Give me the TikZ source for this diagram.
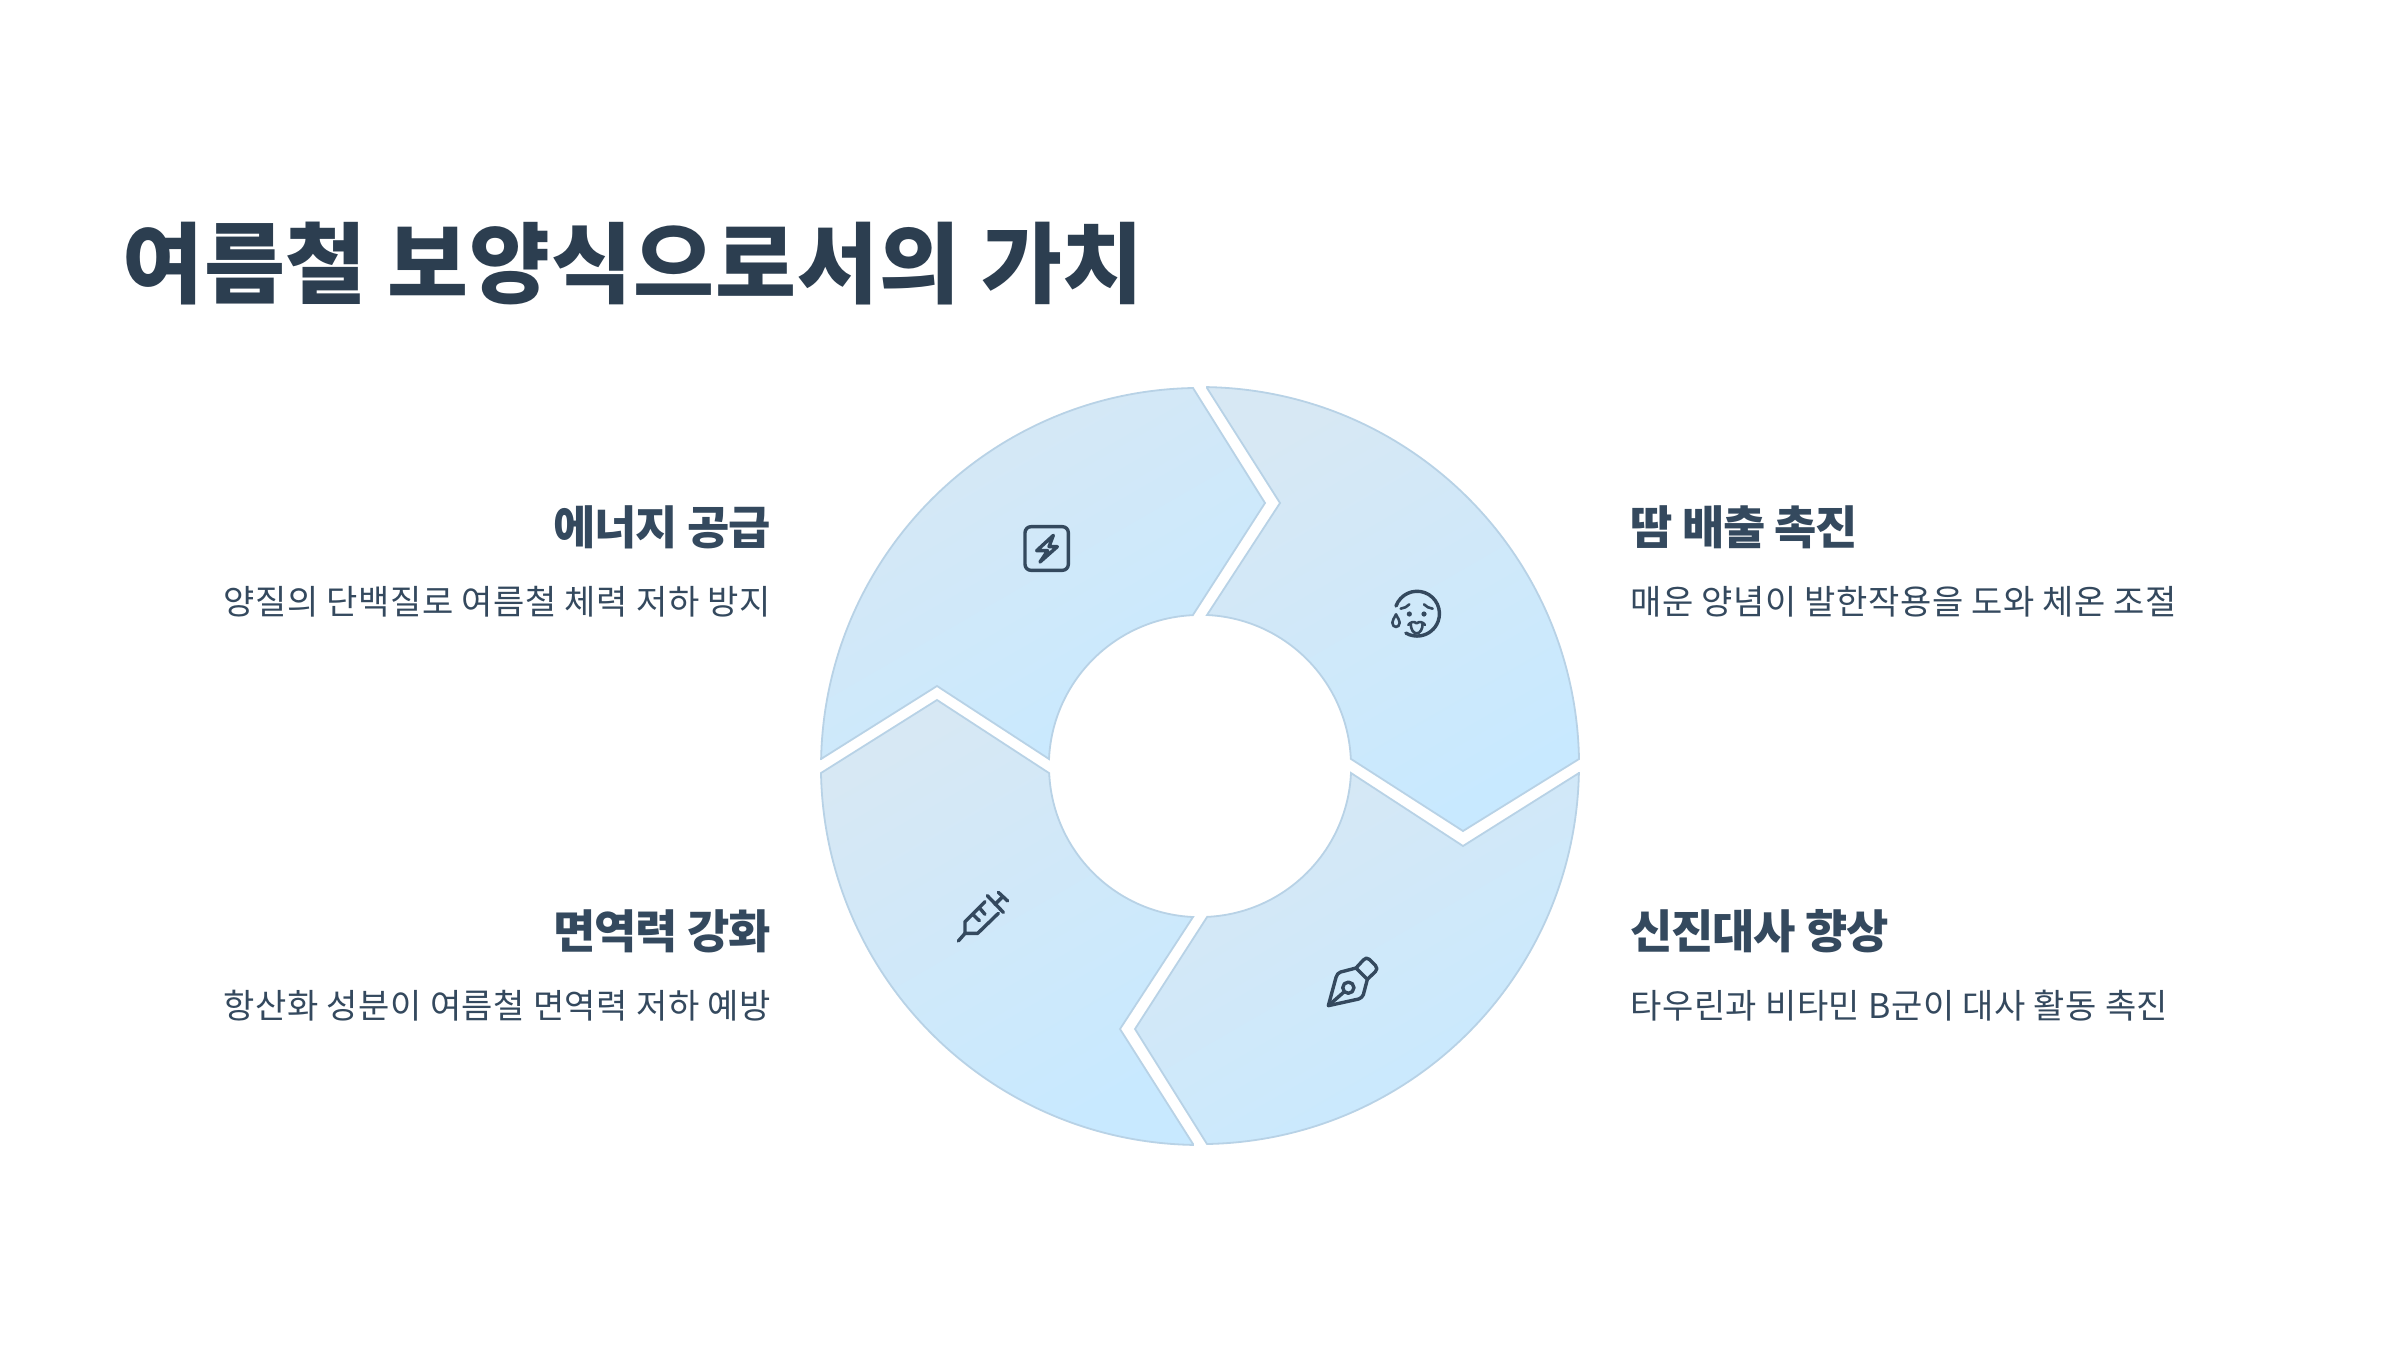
\documentclass[tikz,border=0pt]{standalone}
\usepackage{fontspec}
\setmainfont{Noto Sans CJK KR}
\newfontfamily\titlefont[LetterSpace=1]{Noto Sans CJK KR}
\newfontfamily\headfont[LetterSpace=-2.7]{Noto Sans CJK KR}
\newfontfamily\bodyfont[LetterSpace=1.6]{Noto Sans CJK KR}
\definecolor{inkA}{HTML}{2C3E50}
\definecolor{inkB}{HTML}{34495E}
\definecolor{segLight}{HTML}{D7E8F4}
\definecolor{segDeep}{HTML}{C8E9FF}
\definecolor{segEdge}{HTML}{B8D2E6}
\tikzset{
  seg/.style={draw=segEdge,line width=0.9pt,line join=miter,top color=segLight,bottom color=segDeep,shading angle=30},
  titletext/.style={inner sep=0pt,anchor=base west,text=inkA,font=\titlefont\fontsize{44}{52}\selectfont\bfseries},
  headtext/.style={inner sep=0pt,text=inkB,font=\headfont\fontsize{23}{28}\selectfont\bfseries},
  bodytext/.style={inner sep=0pt,text=inkB,font=\bodyfont\fontsize{17}{22}\selectfont},
  icon/.style={draw=inkB,line width=1.7pt,line cap=round,line join=round,fill=none},
  iconfine/.style={draw=inkB,line width=1.3pt,line cap=round,line join=round,fill=none}
}
\begin{document}
\begin{tikzpicture}[x=0.5pt,y=-0.5pt]
\useasboundingbox (0,0) rectangle (2400,1350);
\fill[white] (0,0) rectangle (2400,1350);
% segments
\path[seg] (1207,388) -- (1280,503) -- (1207,615) arc[start angle=87.34,end angle=2.65,radius=75.5pt] -- (1463,831) -- (1579,759) arc[start angle=1.06,end angle=88.94,radius=189.5pt] -- cycle;
\path[seg] (1579,773) -- (1463,846) -- (1351,773) arc[start angle=-2.65,end angle=-87.34,radius=75.5pt] -- (1135,1029) -- (1207,1144) arc[start angle=-88.94,end angle=-1.06,radius=189.5pt] -- cycle;
\path[seg] (1193,1144) -- (1120,1029) -- (1193,917) arc[start angle=-92.66,end angle=-177.35,radius=75.5pt] -- (937,700) -- (821,773) arc[start angle=-178.94,end angle=-91.06,radius=189.5pt] -- cycle;
\path[seg] (821,759) -- (937,686) -- (1049,759) arc[start angle=177.35,end angle=92.66,radius=75.5pt] -- (1265,503) -- (1193,388) arc[start angle=91.06,end angle=178.94,radius=189.5pt] -- cycle;
% title and labels
\node[titletext] (title) at (122,296) {여름철 보양식으로서의 가치};
\node[headtext,anchor=base east] (h1) at (771,544) {에너지 공급};
\node[bodytext,anchor=base east] (b1) at (771,614) {양질의 단백질로 여름철 체력 저하 방지};
\node[headtext,anchor=base west] (h2) at (1630,544) {땀 배출 촉진};
\node[bodytext,anchor=base west] (b2) at (1630,614) {매운 양념이 발한작용을 도와 체온 조절};
\node[headtext,anchor=base east] (h3) at (771,948) {면역력 강화};
\node[bodytext,anchor=base east] (b3) at (771,1018) {항산화 성분이 여름철 면역력 저하 예방};
\node[headtext,anchor=base west] (h4) at (1630,948) {신진대사 향상};
\node[bodytext,anchor=base west] (b4) at (1630,1018) {타우린과 비타민 B군이 대사 활동 촉진};
% bolt icon
\begin{scope}[shift={(1000,500)},x=0.16667pt,y=-0.16667pt]
\draw[icon,rounded corners=3pt] (75,80) rectangle (205,211);
\draw[icon] (160,106) -- (110,152) -- (143,152) -- (120,186) -- (172,140) -- (147,140) -- cycle;
\end{scope}
% face icon
\begin{scope}[shift={(1380,570)},x=0.16667pt,y=-0.16667pt]
\draw[icon] (48,108) arc[start angle=160,end angle=-120,radius=11.2pt];
\draw[iconfine] (48,133) .. controls (42,146) and (37,150) .. (37,158) .. controls (37,175) and (59,175) .. (59,158) .. controls (59,150) and (54,146) .. (48,133) -- cycle;
\fill[inkB] (88,132) circle (1.3pt) (132,132) circle (1.3pt);
\draw[iconfine] (62,116) .. controls (72,115) and (82,110) .. (88,103);
\draw[iconfine] (158,116) .. controls (148,115) and (138,110) .. (132,103);
\draw[iconfine] (85,165) .. controls (90,156) and (103,153) .. (110,160) .. controls (117,153) and (130,156) .. (135,165);
\draw[iconfine] (92,160) .. controls (92,178) and (100,190) .. (110,190) .. controls (120,190) and (128,178) .. (128,160);
\end{scope}
% pen icon
\begin{scope}[shift={(1310,940)},x=0.16667pt,y=-0.16667pt]
\draw[icon] (55,197) -- (78,112) .. controls (80,104) and (85,98) .. (92,96) -- (138,84) -- (172,118) -- (160,164) .. controls (158,170) and (152,175) .. (146,177) -- cycle;
\draw[icon] (138,84) -- (160,60) .. controls (165,54) and (172,52) .. (178,58) -- (196,76) .. controls (202,82) and (202,90) .. (196,95) -- (172,118);
\draw[icon] (115,143) circle (2.8pt);
\draw[icon] (55,197) -- (103,155);
\end{scope}
% syringe icon
\begin{scope}[shift={(940,880)},x=0.16667pt,y=-0.16667pt]
\draw[icon] (55,183) -- (75,160);
\draw[icon] (135,65) -- (75,125) -- (75,160) -- (113,160) -- (175,100);
\draw[icon] (142,47) -- (190,97);
\draw[icon] (165,73) -- (188,50);
\draw[icon] (175,37) -- (203,63);
\draw[icon] (98,103) -- (118,122);
\draw[icon] (118,83) -- (135,103);
\end{scope}
\end{tikzpicture}
\end{document}
